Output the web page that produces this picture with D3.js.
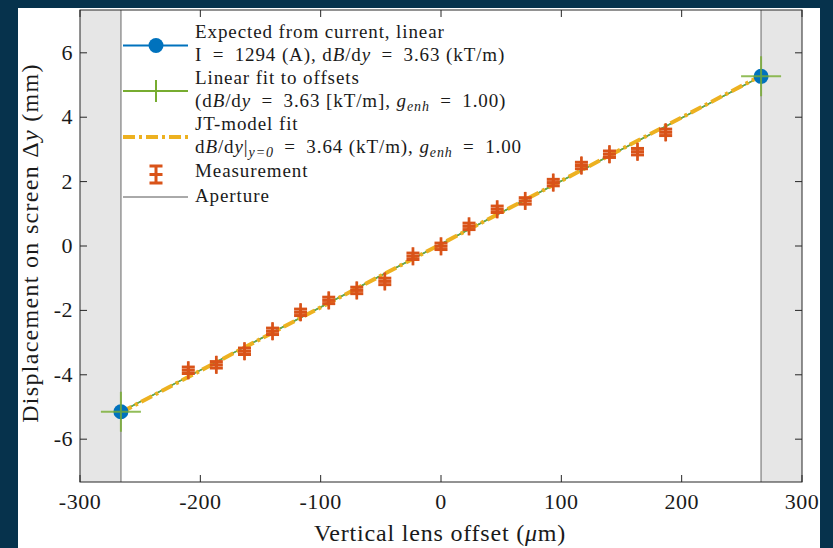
<!DOCTYPE html>
<html lang="en">
<head>
<meta charset="UTF-8">
<title>Displacement vs lens offset</title>
<script src="https://d3js.org/d3.v7.min.js"></script>
<style>
  body { margin: 0; background: #06324c; }
  svg { display: block; }
  text { font-family: "Liberation Serif", "Times New Roman", serif; fill: #1a1a1a; }
</style>
</head>
<body>
<svg width="833" height="548"></svg>
<script>
// measured offsets (um) and screen displacement (mm)
var measX = [-210, -186.7, -163.3, -140, -116.7, -93.3, -70, -46.7, -23.3, 0,
             23.3, 46.7, 70, 93.3, 116.7, 140, 163.3, 186.7];
var measY = [-3.86, -3.69, -3.27, -2.65, -2.06, -1.69, -1.38, -1.10, -0.32, -0.01,
             0.61, 1.14, 1.40, 1.97, 2.50, 2.85, 2.93, 3.53];
var errY = 0.1;   // mm
var errX = 0.4;   // um

var aperture = [-266, 266];
var expY = [-5.15, 5.27];   // expected from current
var fitY = [-5.15, 5.27];   // linear fit
var jtY  = [-5.17, 5.29];   // JT model fit

var xTicks = [-300, -200, -100, 0, 100, 200, 300];
var yTicks = [-6, -4, -2, 0, 2, 4, 6];

var svg = d3.select('svg');
var box = {left: 80, right: 802, top: 10, bottom: 482};

// white figure area
svg.append('rect').attr('x', 18).attr('y', 8).attr('width', 802).attr('height', 540).attr('fill', '#fff');

var x = d3.scaleLinear().domain([-300, 300]).range([box.left, box.right]);
var y = d3.scaleLinear().domain([-7.33, 7.33]).range([box.bottom, box.top]);

var g = svg.append('g');

// aperture shading
g.append('rect').attr('x', x(-300)).attr('y', box.top)
    .attr('width', x(aperture[0]) - x(-300)).attr('height', box.bottom - box.top).attr('fill', '#e6e6e6');
g.append('rect').attr('x', x(aperture[1])).attr('y', box.top)
    .attr('width', x(300) - x(aperture[1])).attr('height', box.bottom - box.top).attr('fill', '#e6e6e6');
aperture.forEach(function (a) {
    g.append('line').attr('x1', x(a)).attr('x2', x(a)).attr('y1', box.top).attr('y2', box.bottom)
        .attr('stroke', '#9a9a9a').attr('stroke-width', 1.6);
});

var line = d3.line().x(function (d) { return x(d[0]); }).y(function (d) { return y(d[1]); });

// expected line
g.append('path').attr('d', line(d3.zip(aperture, expY)))
    .attr('stroke', '#0072BD').attr('stroke-width', 1.5).attr('fill', 'none');
// linear fit
g.append('path').attr('d', line(d3.zip(aperture, fitY)))
    .attr('stroke', '#77AC30').attr('stroke-width', 1.5).attr('fill', 'none');
// JT fit
g.append('path').attr('d', line(d3.zip(aperture, jtY)))
    .attr('stroke', '#EDB120').attr('stroke-width', 4).attr('fill', 'none')
    .attr('stroke-dasharray', '12,4,3,4');

// measurements with error bars
var mg = g.selectAll('.meas').data(d3.zip(measX, measY)).enter().append('g')
    .attr('stroke', '#D95319').attr('stroke-width', 3);
mg.append('line').attr('x1', function (d) { return x(d[0]); }).attr('x2', function (d) { return x(d[0]); })
    .attr('y1', function (d) { return y(d[1] - errY); }).attr('y2', function (d) { return y(d[1] + errY); });
mg.append('line').attr('x1', function (d) { return x(d[0]) - 6.5; }).attr('x2', function (d) { return x(d[0]) + 6.5; })
    .attr('y1', function (d) { return y(d[1]); }).attr('y2', function (d) { return y(d[1]); });
[-1, 1].forEach(function (s) {
    mg.append('line').attr('x1', function (d) { return x(d[0]) - 6.5; }).attr('x2', function (d) { return x(d[0]) + 6.5; })
        .attr('y1', function (d) { return y(d[1] + s * errY); }).attr('y2', function (d) { return y(d[1] + s * errY); });
    mg.append('line').attr('x1', function (d) { return x(d[0] + s * errX); }).attr('x2', function (d) { return x(d[0] + s * errX); })
        .attr('y1', function (d) { return y(d[1]) - 9; }).attr('y2', function (d) { return y(d[1]) + 9; })
        .attr('stroke-width', 1.8);
});

// end markers
d3.zip(aperture, expY).forEach(function (d) {
    g.append('circle').attr('cx', x(d[0])).attr('cy', y(d[1])).attr('r', 7.5).attr('fill', '#0072BD');
});
d3.zip(aperture, fitY).forEach(function (d) {
    g.append('path').attr('d', 'M' + (x(d[0]) - 20) + ',' + y(d[1]) + 'h40M' + x(d[0]) + ',' + (y(d[1]) - 20) + 'v40')
        .attr('stroke', '#77AC30').attr('stroke-width', 2).attr('stroke-opacity', 0.8);
});

// axes box and ticks
var ax = svg.append('g').attr('stroke', '#262626').attr('stroke-width', 1);
ax.append('rect').attr('x', box.left).attr('y', box.top).attr('width', box.right - box.left)
    .attr('height', box.bottom - box.top).attr('fill', 'none');
xTicks.forEach(function (t) {
    ax.append('line').attr('x1', x(t)).attr('x2', x(t)).attr('y1', box.bottom).attr('y2', box.bottom - 7);
    ax.append('line').attr('x1', x(t)).attr('x2', x(t)).attr('y1', box.top).attr('y2', box.top + 7);
});
yTicks.forEach(function (t) {
    ax.append('line').attr('y1', y(t)).attr('y2', y(t)).attr('x1', box.left).attr('x2', box.left + 7);
    ax.append('line').attr('y1', y(t)).attr('y2', y(t)).attr('x1', box.right).attr('x2', box.right - 7);
});
svg.selectAll('.xt').data(xTicks).enter().append('text')
    .attr('x', function (d) { return x(d); }).attr('y', 509).attr('text-anchor', 'middle')
    .attr('font-size', 22).attr('letter-spacing', 0.5).text(function (d) { return d; });
svg.selectAll('.yt').data(yTicks).enter().append('text')
    .attr('x', 73).attr('y', function (d) { return y(d) + 7; }).attr('text-anchor', 'end')
    .attr('font-size', 22).attr('letter-spacing', 0.5).text(function (d) { return d; });

// axis labels
var xl = svg.append('text').attr('x', 440).attr('y', 541).attr('text-anchor', 'middle')
    .attr('font-size', 24).attr('letter-spacing', 0.8);
xl.append('tspan').text('Vertical lens offset (');
xl.append('tspan').attr('font-style', 'italic').text('\u03bc');
xl.append('tspan').text('m)');
var yl = svg.append('text').attr('transform', 'translate(38,243) rotate(-90)').attr('text-anchor', 'middle')
    .attr('font-size', 24).attr('letter-spacing', 1.3);
yl.append('tspan').text('Displacement on screen \u0394');
yl.append('tspan').attr('font-style', 'italic').text('y');
yl.append('tspan').text(' (mm)');

// legend
var lx = 195, lfs = 19, eq = '\u2002=\u2002';
function rich(yy, parts) {
    var t = svg.append('text').attr('x', lx).attr('y', yy).attr('font-size', lfs).attr('letter-spacing', 0.9);
    parts.forEach(function (p) {
        var s = t.append('tspan').text(p.t);
        if (p.i) s.attr('font-style', 'italic');
        if (p.sub) s.attr('font-size', 14).attr('dy', 4);
        if (p.up) s.attr('dy', -4);
    });
}
rich(38, [{t: 'Expected from current, linear'}]);
rich(61, [{t: 'I' + eq + '1294 (A), d'}, {t: 'B', i: true}, {t: '/d'}, {t: 'y', i: true}, {t: eq + '3.63 (kT/m)'}]);
rich(84, [{t: 'Linear fit to offsets'}]);
rich(107, [{t: '(d'}, {t: 'B', i: true}, {t: '/d'}, {t: 'y', i: true}, {t: eq + '3.63 [kT/m], '},
    {t: 'g', i: true}, {t: 'enh', i: true, sub: true}, {t: eq + '1.00)', up: true}]);
rich(130, [{t: 'JT-model fit'}]);
rich(153, [{t: 'd'}, {t: 'B', i: true}, {t: '/d'}, {t: 'y', i: true}, {t: '|'},
    {t: 'y=0', i: true, sub: true}, {t: eq + '3.64 (kT/m), ', up: true},
    {t: 'g', i: true}, {t: 'enh', i: true, sub: true}, {t: eq + '1.00', up: true}]);
rich(177, [{t: 'Measurement'}]);
rich(202, [{t: 'Aperture'}]);

var lg = svg.append('g');
lg.append('line').attr('x1', 123).attr('x2', 188).attr('y1', 45.5).attr('y2', 45.5).attr('stroke', '#0072BD').attr('stroke-width', 2);
lg.append('circle').attr('cx', 156).attr('cy', 45.5).attr('r', 7.5).attr('fill', '#0072BD');
lg.append('line').attr('x1', 123).attr('x2', 188).attr('y1', 91).attr('y2', 91).attr('stroke', '#77AC30').attr('stroke-width', 2);
lg.append('path').attr('d', 'M156,80v22').attr('stroke', '#77AC30').attr('stroke-width', 2);
lg.append('line').attr('x1', 123).attr('x2', 188).attr('y1', 137).attr('y2', 137).attr('stroke', '#EDB120')
    .attr('stroke-width', 4).attr('stroke-dasharray', '12,4,3,4');
var le = lg.append('g').attr('stroke', '#D95319').attr('stroke-width', 3);
le.append('path').attr('d', 'M156,166v17M149.5,166h13M149.5,183h13M149.5,174.5h13');
lg.append('line').attr('x1', 123).attr('x2', 188).attr('y1', 197).attr('y2', 197).attr('stroke', '#555').attr('stroke-width', 1);
</script>
</body>
</html>
